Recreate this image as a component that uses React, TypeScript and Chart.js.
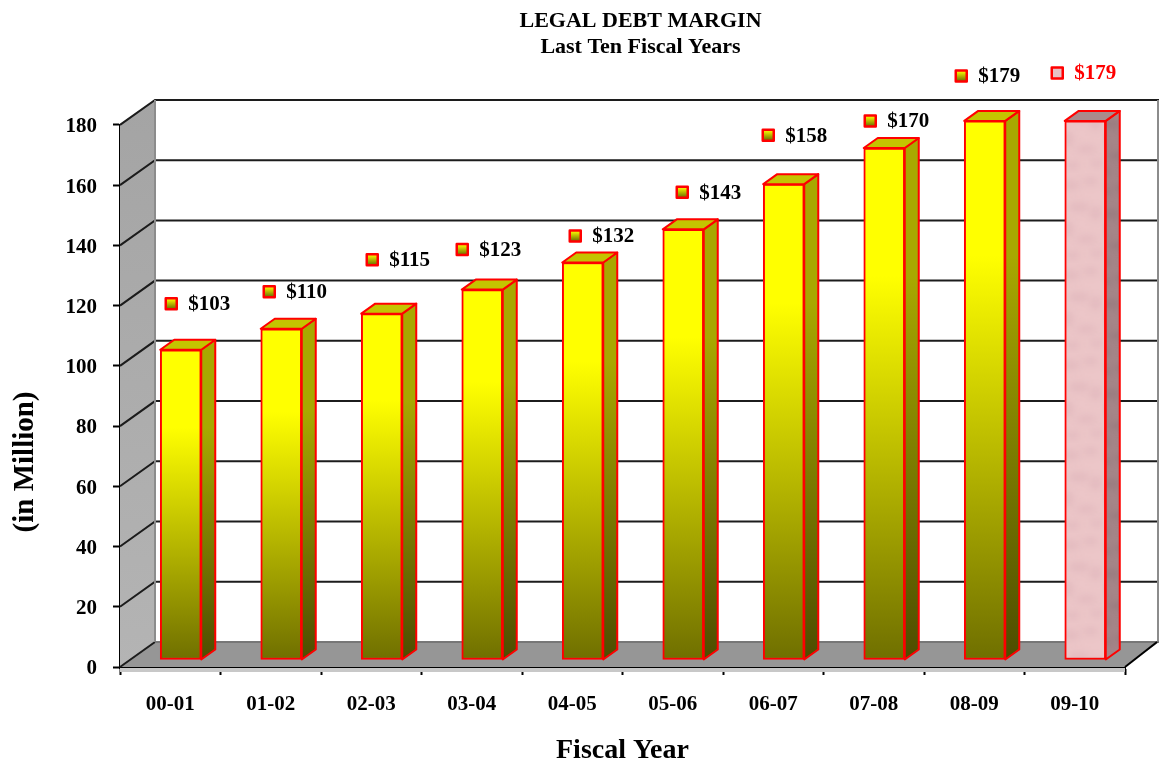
import React, { useEffect, useRef } from "react";
import { Chart, registerables } from "chart.js";

Chart.register(...registerables);

const categories = ["00-01", "01-02", "02-03", "03-04", "04-05", "05-06", "06-07", "07-08", "08-09", "09-10"];
const debtMargin = [103, 110, 115, 123, 132, 143, 158, 170, 179, 179];
const valueLabels = ["$103", "$110", "$115", "$123", "$132", "$143", "$158", "$170", "$179", "$179"];
const titleLines = ["LEGAL DEBT MARGIN", "Last Ten Fiscal Years"];
const xTitle = "Fiscal Year";
const yTitle = "(in Million)";
// label marker placement relative to the top centre of each bar (style, not data)
const labelDx = [-9.5, -12, -9.5, -20, -7.5, -1, -15.5, -14, -23.5, -28];
const labelDy = [-46, -37, -54, -40, -26.5, -37, -49, -27, -45, -48];

const FONT = "'Liberation Serif', serif";
const DX = 35, DY = 25;         // wall depth
const SX = 10.5, SY = 7;        // bar plane shift
const BX = 14, BY = 10;         // bar depth
const PINK = 9;

function pinkPattern(ctx: CanvasRenderingContext2D, base: string, spot: string) {
  const c = document.createElement("canvas");
  c.width = 42; c.height = 90;
  const g = c.getContext("2d")!;
  g.fillStyle = base;
  g.fillRect(0, 0, 42, 90);
  g.fillStyle = spot;
  g.filter = "blur(3px)";
  const blots = [[10, 12, 9, 5], [30, 8, 8, 4], [18, 34, 10, 5], [35, 40, 6, 7], [7, 56, 6, 8], [26, 66, 11, 4], [36, 80, 6, 4], [12, 82, 7, 4]];
  blots.forEach(([x, y, a, b]) => {
    g.beginPath();
    g.ellipse(x, y, a, b, 0, 0, Math.PI * 2);
    g.fill();
  });
  return ctx.createPattern(c, "repeat")!;
}

function poly(ctx: CanvasRenderingContext2D, pts: number[][], fill: any, stroke?: string, lw = 2) {
  ctx.beginPath();
  pts.forEach(([x, y], i) => (i ? ctx.lineTo(x, y) : ctx.moveTo(x, y)));
  ctx.closePath();
  if (fill) { ctx.fillStyle = fill; ctx.fill(); }
  if (stroke) { ctx.strokeStyle = stroke; ctx.lineWidth = lw; ctx.lineJoin = "round"; ctx.stroke(); }
}

const box3dPlugin = {
  id: "box3d",
  afterLayout(chart: any) {
    // title sits right of the page centre in the reference
    if (chart.titleBlock) {
      chart.titleBlock.left += 74;
      chart.titleBlock.right += 74;
    }
    const s = chart.scales.y;
    if (!s.$wrapped) {
      const origTitle = s.drawTitle.bind(s);
      s.drawTitle = () => {
        chart.ctx.save();
        chart.ctx.translate(-1, 66);
        origTitle();
        chart.ctx.restore();
      };
      const origLabels = s.drawLabels.bind(s);
      s.drawLabels = (area: any) => {
        chart.ctx.save();
        chart.ctx.translate(0, 2);
        origLabels(area);
        chart.ctx.restore();
      };
      s.$wrapped = true;
    }
  },
  beforeDatasetsDraw(chart: any) {
    const { ctx, chartArea: a, scales } = chart;
    const y = scales.y;
    const L = a.left, R = a.right, T = a.top, B = a.bottom;
    const W = chart.width;
    ctx.save();
    // left wall
    const wall = ctx.createLinearGradient(0, T - DY, 0, B);
    wall.addColorStop(0, "#a4a4a4");
    wall.addColorStop(1, "#b4b4b4");
    poly(ctx, [[L, T], [L + DX, T - DY], [L + DX, B - DY], [L, B]], wall);
    // floor
    poly(ctx, [[L, B], [L + DX, B - DY], [W, B - DY], [R, B]], "#969696");
    // band under the floor
    ctx.fillStyle = "#c8c8c8";
    ctx.fillRect(L, B + 1, R - L, 4);
    // grid
    y.ticks.forEach((t: any) => {
      const py = y.getPixelForValue(t.value);
      ctx.strokeStyle = "#1c1c1c";
      ctx.lineWidth = 2;
      ctx.beginPath();
      ctx.moveTo(L, py);
      ctx.lineTo(L + DX, py - DY);
      if (t.value > 0) ctx.lineTo(W, py - DY);
      ctx.stroke();
    });
    ctx.strokeStyle = "#8c8c8c";
    ctx.lineWidth = 2;
    ctx.beginPath();
    ctx.moveTo(L + DX, T - DY); ctx.lineTo(L + DX, B - DY);
    ctx.moveTo(W - 1, T - DY); ctx.lineTo(W - 1, B - DY);
    ctx.stroke();
    ctx.strokeStyle = "#777";
    ctx.beginPath();
    ctx.moveTo(L + DX, B - DY); ctx.lineTo(W, B - DY);
    ctx.stroke();
    ctx.strokeStyle = "#000";
    ctx.beginPath();
    ctx.moveTo(R, B); ctx.lineTo(W - 2, B - DY);
    ctx.stroke();
    ctx.restore();
    ctx.save();
    ctx.translate(SX, -SY); // bars stand inside the box
  },
  afterDatasetsDraw(chart: any) {
    const { ctx } = chart;
    ctx.restore();
    const meta = chart.getDatasetMeta(0);
    const sidePink = pinkPattern(ctx, "#a58588", "#9a7c80");
    meta.data.forEach((bar: any, i: number) => {
      const hw = bar.width / 2;
      const l = bar.x - hw + SX, r = bar.x + hw + SX;
      const t = bar.y - SY, b = bar.base - SY;
      let side: any, top: any;
      if (i === PINK) {
        side = sidePink;
        top = "#aa8a8c";
      } else {
        side = ctx.createLinearGradient(0, t, 0, b);
        side.addColorStop(0, "#a8a800");
        side.addColorStop(0.25, "#a8a800");
        side.addColorStop(1, "#4d4d00");
        top = "#c4c400";
      }
      poly(ctx, [[r, t], [r + BX, t - BY], [r + BX, b - BY], [r, b]], side, "#ff0000", 2);
      poly(ctx, [[l, t], [l + BX, t - BY], [r + BX, t - BY], [r, t]], top, "#ff0000", 2);
      // value tag
      const mx = bar.x + SX + labelDx[i];
      const my = t + labelDy[i];
      let mk: any;
      if (i === PINK) mk = "#e6c2c6";
      else {
        mk = ctx.createLinearGradient(0, my - 5, 0, my + 5);
        mk.addColorStop(0, "#ffff00");
        mk.addColorStop(1, "#6e6e00");
      }
      ctx.fillStyle = mk;
      ctx.fillRect(mx - 5.5, my - 5.5, 11, 11);
      ctx.strokeStyle = "#ff0000";
      ctx.lineWidth = 2.5;
      ctx.strokeRect(mx - 5.5, my - 5.5, 11, 11);
      ctx.fillStyle = i === PINK ? "#ff0000" : "#000";
      ctx.font = `bold 21px ${FONT}`;
      ctx.textAlign = "left";
      ctx.textBaseline = "middle";
      ctx.fillText(valueLabels[i], mx + 17, my + 1);
    });
  },
};

export default function App() {
  const ref = useRef<HTMLCanvasElement>(null);
  useEffect(() => {
    document.body.style.margin = "0";
    const canvas = ref.current!;
    const pattern = pinkPattern(canvas.getContext("2d")!, "#ecc6c8", "#e4bcc0");
    const chart = new Chart(canvas, {
      type: "bar",
      data: {
        labels: categories,
        datasets: [
          {
            label: "Legal Debt Margin",
            data: debtMargin,
            barThickness: 41,
            borderWidth: 2,
            borderColor: "#ff0000",
            borderSkipped: false,
            backgroundColor: (c: any) => {
              if (c.dataIndex === PINK) return pattern;
              const y = c.chart.scales.y;
              if (!y || y.bottom === undefined || !c.chart.chartArea) return "#ffff00";
              const top = y.getPixelForValue(debtMargin[c.dataIndex]);
              const g = c.chart.ctx.createLinearGradient(0, top, 0, y.bottom);
              g.addColorStop(0, "#ffff00");
              g.addColorStop(0.25, "#ffff00");
              g.addColorStop(1, "#6f6f00");
              return g;
            },
          },
        ],
      },
      options: {
        responsive: false,
        animation: false,
        layout: { padding: { left: 8, right: 34, top: 0, bottom: 0 } },
        plugins: {
          legend: { display: false },
          tooltip: { enabled: false },
          title: {
            display: true,
            text: titleLines,
            color: "#000",
            font: { family: FONT, size: 22, weight: "bold", lineHeight: 1.18 },
            padding: { top: 8, bottom: 65 },
          },
        },
        scales: {
          x: {
            type: "category",
            offset: true,
            afterFit: (s: any) => { s.height = 96; },
            grid: { drawOnChartArea: false, drawTicks: true, tickLength: 8, tickColor: "#000", tickWidth: 2, offset: true },
            border: { color: "#000", width: 3 },
            ticks: { color: "#000", padding: 17, maxRotation: 0, font: { family: FONT, size: 21, weight: "bold" } },
            title: { display: true, text: xTitle, color: "#000", padding: { top: 0, bottom: -5 }, font: { family: FONT, size: 28, weight: "bold" } },
          },
          y: {
            min: 0,
            max: 180,
            afterFit: (s: any) => { s.width = 112; },
            grid: { drawOnChartArea: false, drawTicks: true, tickLength: 7, tickColor: "#000", tickWidth: 2 },
            border: { color: "#000", width: 2 },
            ticks: { stepSize: 20, color: "#000", padding: 16, font: { family: FONT, size: 21, weight: "bold" } },
            title: { display: true, text: yTitle, color: "#000", padding: { top: 1, bottom: 0 }, font: { family: FONT, size: 29, weight: "bold" } },
          },
        },
      },
      plugins: [box3dPlugin],
    } as any);
    return () => chart.destroy();
  }, []);
  return <canvas ref={ref} width={1159} height={763} style={{ position: "fixed", left: 0, top: 0, display: "block" }} />;
}
